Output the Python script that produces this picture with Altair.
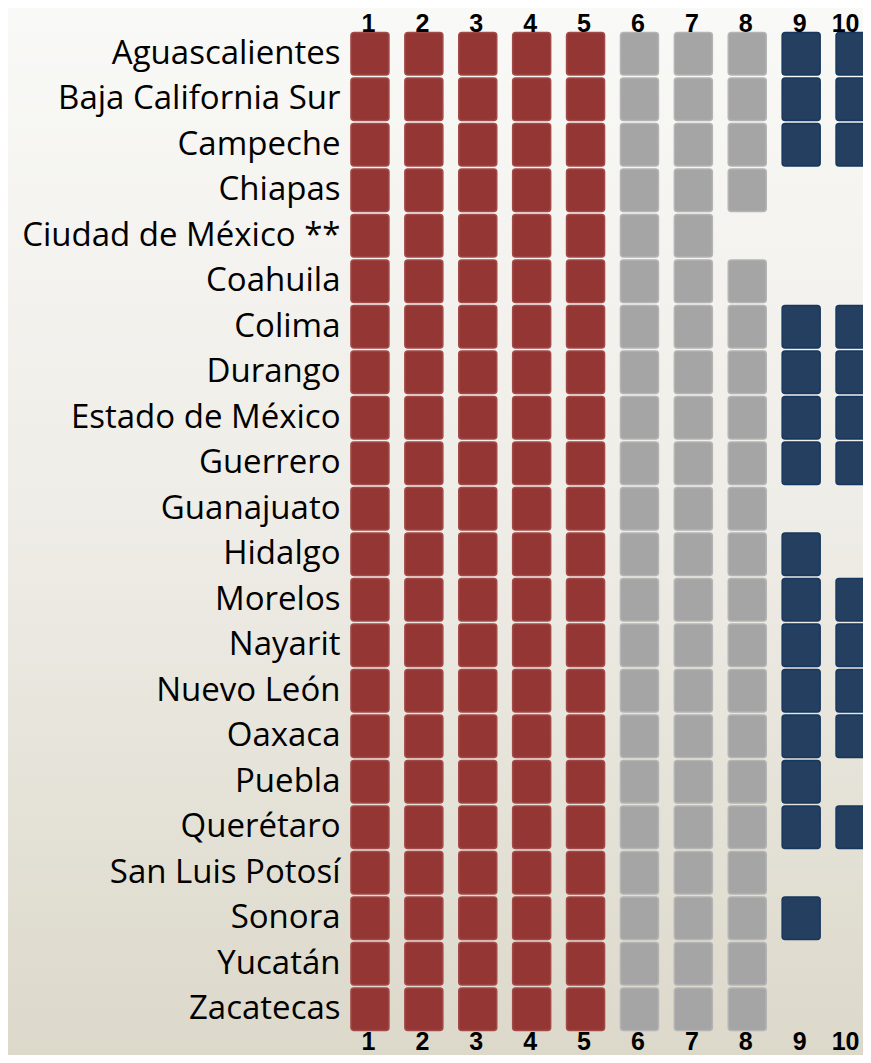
import altair as alt
import pandas as pd

states = [
    "Aguascalientes", "Baja California Sur", "Campeche", "Chiapas",
    "Ciudad de México **", "Coahuila", "Colima", "Durango",
    "Estado de México", "Guerrero", "Guanajuato", "Hidalgo", "Morelos",
    "Nayarit", "Nuevo León", "Oaxaca", "Puebla", "Querétaro",
    "San Luis Potosí", "Sonora", "Yucatán", "Zacatecas",
]
max_col = [10, 10, 10, 8, 7, 8, 10, 10, 10, 10, 8, 9, 10, 10, 10, 10, 9, 10, 8, 9, 8, 8]
columns = [1, 2, 3, 4, 5, 6, 7, 8, 9, 10]
groups = ["a", "a", "a", "a", "a", "b", "b", "b", "c", "c"]

rows = []
for s, m in zip(states, max_col):
    for c, g in zip(columns, groups):
        if c <= m:
            rows.append({"state": s, "col": c, "grp": g})
df = pd.DataFrame(rows)

W, H = 520, 1001
half = 0.3525
xscale = alt.Scale(domain=[0.5, 0.5 + W / 53.9], nice=False, zero=False)
yscale = alt.Scale(domain=states, paddingInner=0.066, paddingOuter=0.033)

bg = alt.Chart(pd.DataFrame({"k": [0]})).mark_rect(
    color={"x1": 0, "y1": 0, "x2": 0, "y2": 1, "gradient": "linear",
           "stops": [{"offset": 0, "color": "#f9f9f7"},
                     {"offset": 0.5, "color": "#eeece6"},
                     {"offset": 1, "color": "#dcd8ca"}]}
).encode(x=alt.value(-335), x2=alt.value(W), y=alt.value(-23), y2=alt.value(H + 23))

base = alt.Chart(df).transform_calculate(
    x0=f"datum.col - {half}", x1=f"datum.col + {half}"
)

label_shift = {"condition": {"test": "datum.value === 10", "value": -10}, "value": -2}

cells = base.mark_rect(cornerRadius=3, strokeWidth=1.5, clip=False).encode(
    x=alt.X("x0:Q", scale=xscale,
            axis=alt.Axis(orient="top", values=columns, format="d", title=None,
                          ticks=False, tickSize=0, domain=False, grid=False,
                          labelFont="Liberation Sans", labelFontWeight="bold",
                          labelFontSize=25, labelColor="#000000",
                          labelBaseline="alphabetic", labelPadding=0,
                          labelOffset=label_shift, zindex=2)),
    x2="x1:Q",
    y=alt.Y("state:N", scale=yscale, sort=states,
            axis=alt.Axis(title=None, ticks=False, tickSize=0, domain=False,
                          grid=False, labelFont="Open Sans", labelFontSize=33,
                          labelColor="#000000", labelPadding=3, labelLimit=400,
                          zindex=2)),
    color=alt.Color("grp:N", legend=None,
                    scale=alt.Scale(domain=["a", "b", "c"],
                                    range=["#943634", "#a5a5a5", "#243f60"])),
    stroke=alt.Stroke("grp:N", legend=None,
                      scale=alt.Scale(domain=["a", "b", "c"],
                                      range=["#a24a48", "#b4b4b4", "#17375e"])),
)

bottom = base.mark_rect(opacity=0).encode(
    x=alt.X("x0:Q", scale=xscale,
            axis=alt.Axis(orient="bottom", values=columns, format="d", title=None,
                          ticks=False, tickSize=0, domain=False, grid=False,
                          labelFont="Liberation Sans", labelFontWeight="bold",
                          labelFontSize=25, labelColor="#000000",
                          labelBaseline="alphabetic", labelPadding=17,
                          labelOffset=label_shift, zindex=2)),
    x2="x1:Q",
)

chart = alt.layer(bg, cells, bottom).resolve_axis(x="independent").properties(
    width=W, height=H,
    autosize=alt.AutoSizeParams(type="none"),
    padding={"left": 335, "top": 23, "right": 0, "bottom": 23},
    background="#eeece6",
).configure_view(stroke=None)

chart.save("out.html", embed_options={"renderer": "svg", "actions": False})
